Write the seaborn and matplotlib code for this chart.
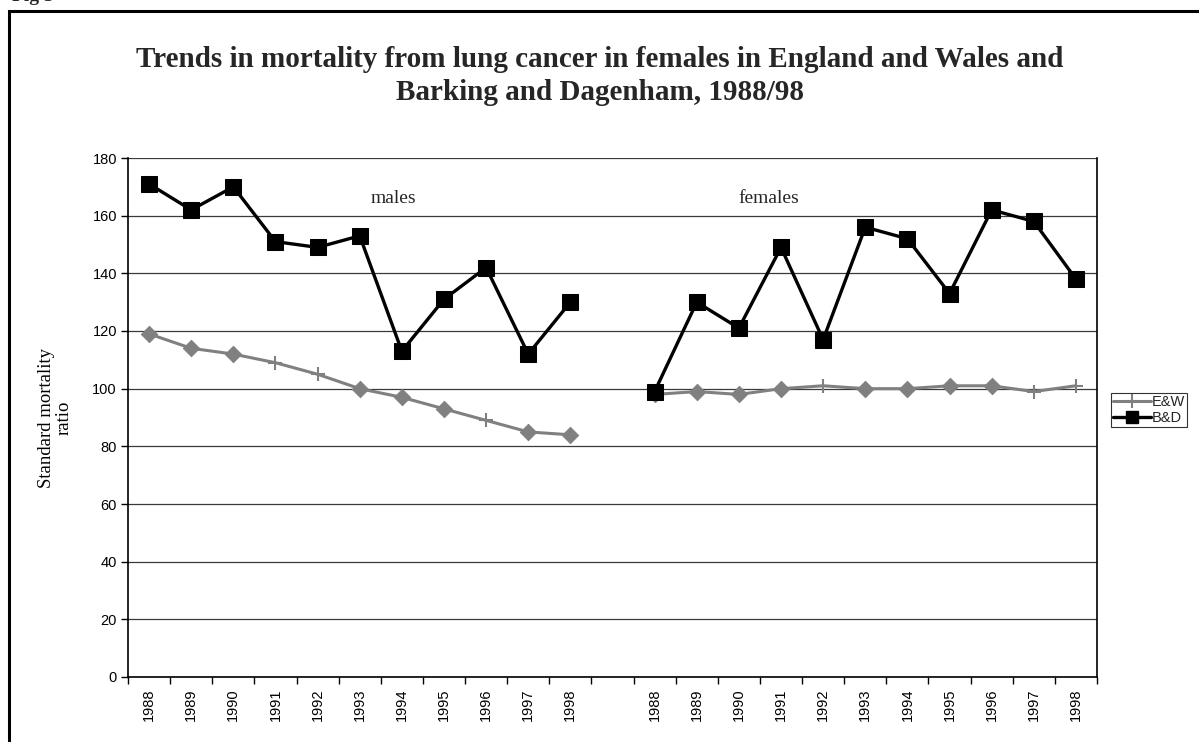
import matplotlib
matplotlib.use("Agg")
import matplotlib.pyplot as plt
import matplotlib.patches as mpatches
from matplotlib.lines import Line2D
import seaborn as sns
import pandas as pd
import numpy as np

# ---- data ----
years = ["1988", "1989", "1990", "1991", "1992", "1993", "1994", "1995", "1996", "1997", "1998"]
males_bd = [171, 162, 170, 151, 149, 153, 113, 131, 142, 112, 130]
males_ew = [119, 114, 112, 109, 105, 100, 97, 93, 89, 85, 84]
females_bd = [99, 130, 121, 149, 117, 156, 152, 133, 162, 158, 138]
females_ew = [98, 99, 98, 100, 101, 100, 100, 101, 101, 99, 101]
# marker kind of each E&W point as drawn in the original (d = diamond, p = plus)
males_ew_kind = ["d", "d", "d", "p", "p", "d", "d", "d", "p", "d", "d"]
females_ew_kind = ["d", "d", "d", "d", "p", "d", "d", "d", "d", "p", "p"]
group_labels = ["males", "females"]
y_ticks = [0, 20, 40, 60, 80, 100, 120, 140, 160, 180]

title = "Trends in mortality from lung cancer in females in England and Wales and\nBarking and Dagenham, 1988/98"

sns.set_theme(style="white")
plt.rcParams["font.family"] = ["Liberation Sans", "DejaVu Sans"]

W, H = 1199, 742
fig = plt.figure(figsize=(W / 100, H / 100), dpi=100)
ax = fig.add_axes([128 / W, 1 - 677 / H, (1097 - 128) / W, (677 - 158) / H])

n = len(years)
pos_m = np.arange(n)
pos_f = np.arange(n) + n + 1
cats = years + [""] + years

def frame(pos, bd, ew, kind, grp):
    return pd.DataFrame({"pos": pos, "bd": bd, "ew": ew, "kind": kind, "grp": grp})

df = pd.concat([frame(pos_m, males_bd, males_ew, males_ew_kind, group_labels[0]),
                frame(pos_f, females_bd, females_ew, females_ew_kind, group_labels[1])])

grey = "#808080"
for g, sub in df.groupby("grp"):
    sns.lineplot(data=sub, x="pos", y="ew", ax=ax, color=grey, lw=2.2, zorder=3)
    sns.scatterplot(data=sub[sub["kind"] == "d"], x="pos", y="ew", ax=ax, marker="D",
                    s=70, color=grey, edgecolor=grey, zorder=4, legend=False)
    sns.scatterplot(data=sub[sub["kind"] == "p"], x="pos", y="ew", ax=ax, marker="+",
                    s=110, color=grey, linewidth=1.5, zorder=4, legend=False)
    sns.lineplot(data=sub, x="pos", y="bd", ax=ax, color="black", lw=2.4, marker="s",
                 markersize=12, markeredgecolor="black", markerfacecolor="black", zorder=5)

ax.set_xlim(-0.5, len(cats) - 0.5)
ax.set_ylim(0, 180)
ax.set_yticks(y_ticks)
ax.set_yticklabels([str(v) for v in y_ticks], fontsize=10.5)
ax.set_xticks(np.arange(len(cats)))
ax.set_xticklabels(cats, rotation=90, fontsize=10.5)
ax.set_xticks(np.arange(len(cats) + 1) - 0.5, minor=True)
ax.tick_params(axis="x", which="major", length=0, pad=8, colors="black")
ax.tick_params(axis="x", which="minor", length=5, width=1, color="black", bottom=True, direction="out")
ax.tick_params(axis="y", length=5, width=1, color="black", left=True, direction="out", pad=3, colors="black")
ax.set_xlabel("")
ax.set_ylabel("Standard mortality\nratio", fontfamily="Liberation Serif", fontsize=13.5,
              labelpad=14, color="black", linespacing=1.05)

ax.grid(axis="y", color="#3a3a3a", lw=0.9)
ax.set_axisbelow(True)
for s in ["left", "right", "bottom"]:
    ax.spines[s].set_visible(True)
    ax.spines[s].set_color("black")
    ax.spines[s].set_linewidth(1.2)
ax.spines["top"].set_visible(False)

ax.text(5.8, 166, group_labels[0], fontfamily="Liberation Serif", fontsize=14, ha="center", va="center")
ax.text(14.7, 166, group_labels[1], fontfamily="Liberation Serif", fontsize=14, ha="center", va="center")

handles = [Line2D([], [], color=grey, lw=2.2, marker="+", markersize=10, markeredgewidth=1.5),
           Line2D([], [], color="black", lw=2.4, marker="s", markersize=9)]
leg = fig.legend(handles, ["E&W", "B&D"], loc="upper left", bbox_to_anchor=(1111 / W, 1 - 393 / H),
                 frameon=True, fancybox=False, fontsize=10.5, handlelength=2.6, handletextpad=0.05,
                 borderpad=0.15, labelspacing=0.1, borderaxespad=0)
leg.get_frame().set_edgecolor("black")
leg.get_frame().set_linewidth(0.8)

fig.suptitle(title, x=0.5, y=1 - 46 / H, fontfamily="Liberation Serif", fontweight="bold",
             fontsize=21, va="top", linespacing=1.3)

fig.text(12 / W, 1 - 1 / H, "Fig 3", fontfamily="Liberation Serif", fontweight="bold",
         fontsize=14, va="baseline", ha="left")

frame_rect = mpatches.Rectangle((9 / W, -0.2), 1.2, 1.2 - 11 / H, transform=fig.transFigure,
                                fill=False, edgecolor="black", lw=2.2, clip_on=False)
fig.patches.append(frame_rect)

fig.savefig("out.png", dpi=100)
